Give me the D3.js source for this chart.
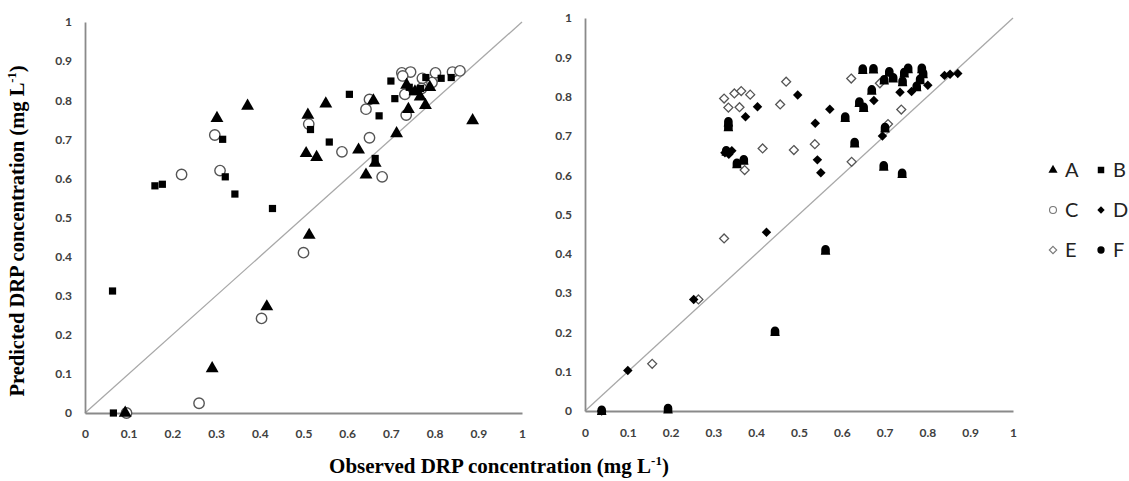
<!DOCTYPE html>
<html>
<head>
<meta charset="utf-8">
<script src="https://cdn.jsdelivr.net/npm/d3@7"></script>
<style>
  html, body { margin: 0; padding: 0; background: #fff; }
  svg { display: block; }
</style>
</head>
<body>
<svg id="chart" width="1129" height="481"></svg>
<script>
// Observed vs predicted DRP concentration (mg L-1), six model series
const ticks = [0, 0.1, 0.2, 0.3, 0.4, 0.5, 0.6, 0.7, 0.8, 0.9, 1];
const tickLabels = ["0", "0.1", "0.2", "0.3", "0.4", "0.5", "0.6", "0.7", "0.8", "0.9", "1"];
const seriesNames = ["A", "B", "C", "D", "E", "F"];

const obsA  = [0.372, 0.302, 0.510, 0.551, 0.660, 0.506, 0.530, 0.626, 0.713, 0.643, 0.664, 0.887, 0.740, 0.779, 0.736, 0.767, 0.789, 0.755, 0.513, 0.416, 0.291, 0.092];
const predA = [0.785, 0.754, 0.762, 0.791, 0.799, 0.664, 0.654, 0.673, 0.715, 0.609, 0.639, 0.748, 0.777, 0.787, 0.839, 0.809, 0.833, 0.822, 0.455, 0.272, 0.114, 0.000];

const obsB  = [0.700, 0.605, 0.709, 0.673, 0.780, 0.815, 0.838, 0.742, 0.750, 0.768, 0.516, 0.315, 0.559, 0.664, 0.321, 0.160, 0.177, 0.343, 0.429, 0.063, 0.065];
const predB = [0.849, 0.815, 0.804, 0.760, 0.858, 0.856, 0.858, 0.833, 0.822, 0.830, 0.725, 0.700, 0.693, 0.651, 0.604, 0.581, 0.585, 0.560, 0.523, 0.312, 0.000];

const obsC  = [0.725, 0.745, 0.727, 0.802, 0.841, 0.858, 0.772, 0.794, 0.770, 0.732, 0.651, 0.643, 0.735, 0.512, 0.297, 0.651, 0.588, 0.309, 0.221, 0.680, 0.500, 0.404, 0.261, 0.095];
const predC = [0.870, 0.872, 0.862, 0.870, 0.872, 0.875, 0.856, 0.845, 0.830, 0.815, 0.802, 0.777, 0.762, 0.739, 0.711, 0.704, 0.668, 0.620, 0.610, 0.604, 0.410, 0.242, 0.025, 0.000];

const obsD  = [0.497, 0.403, 0.375, 0.572, 0.538, 0.543, 0.551, 0.675, 0.736, 0.801, 0.840, 0.853, 0.871, 0.763, 0.327, 0.336, 0.343, 0.695, 0.424, 0.254, 0.100, 0.039];
const predD = [0.804, 0.774, 0.749, 0.768, 0.732, 0.639, 0.606, 0.790, 0.811, 0.829, 0.854, 0.857, 0.859, 0.813, 0.657, 0.653, 0.662, 0.700, 0.455, 0.284, 0.103, 0.000];

const obsE  = [0.325, 0.349, 0.365, 0.386, 0.335, 0.361, 0.470, 0.456, 0.415, 0.488, 0.537, 0.373, 0.622, 0.689, 0.739, 0.708, 0.623, 0.325, 0.265, 0.157];
const predE = [0.795, 0.808, 0.814, 0.805, 0.772, 0.773, 0.838, 0.780, 0.668, 0.664, 0.679, 0.613, 0.846, 0.834, 0.767, 0.730, 0.634, 0.439, 0.284, 0.120];

const obsF  = [0.649, 0.674, 0.711, 0.755, 0.787, 0.746, 0.699, 0.720, 0.742, 0.790, 0.783, 0.775, 0.670, 0.641, 0.651, 0.608, 0.335, 0.335, 0.630, 0.371, 0.355, 0.698, 0.741, 0.701, 0.562, 0.444, 0.194, 0.039, 0.330];
const predF = [0.868, 0.869, 0.861, 0.870, 0.870, 0.859, 0.841, 0.846, 0.837, 0.857, 0.842, 0.824, 0.815, 0.784, 0.771, 0.746, 0.734, 0.722, 0.681, 0.637, 0.628, 0.622, 0.603, 0.719, 0.408, 0.201, 0.004, 0.000, 0.660];

const svg = d3.select("#chart");
const zip = (xs, ys) => xs.map((x, i) => ({ x, y: ys[i] }));

// Square diamond (equal width and height); size is the bounding-square area
const squareDiamond = {
  draw(ctx, size) {
    const r = Math.sqrt(size) / 2;
    ctx.moveTo(0, -r);
    ctx.lineTo(r, 0);
    ctx.lineTo(0, r);
    ctx.lineTo(-r, 0);
    ctx.closePath();
  }
};

// Bell-shaped filled marker used for series F in the plot area
const bellSymbol = {
  draw(ctx, size) {
    const r = Math.sqrt(size / Math.PI);
    ctx.moveTo(-r, 0);
    ctx.arc(0, -r * 0.3, r, Math.PI, 0);
    ctx.lineTo(r, r * 0.55);
    ctx.lineTo(r * 1.1, r * 0.95);
    ctx.lineTo(-r * 1.1, r * 0.95);
    ctx.lineTo(-r, r * 0.55);
    ctx.closePath();
  }
};

const markerStyles = {
  A: { type: d3.symbolTriangle, size: 72, fill: "#000", stroke: "none" },
  B: { type: d3.symbolSquare, size: 52, fill: "#000", stroke: "none" },
  C: { type: d3.symbolCircle, size: 85, fill: "#fff", stroke: "#555", sw: 1.4 },
  D: { type: squareDiamond, size: 90, fill: "#000", stroke: "none" },
  E: { type: squareDiamond, size: 80, fill: "#fff", stroke: "#555", sw: 1.3 },
  F: { type: bellSymbol, size: 58, fill: "#000", stroke: "none" }
};

function panel(cfg) {
  const x = d3.scaleLinear().domain([0, 1]).range([cfg.x0, cfg.x1]);
  const y = d3.scaleLinear().domain([0, 1]).range([cfg.y0, cfg.y1]);
  const g = svg.append("g");

  // 1:1 reference line
  g.append("line")
    .attr("x1", x(0)).attr("y1", y(0)).attr("x2", x(1)).attr("y2", y(1))
    .attr("stroke", "#a8a8a8").attr("stroke-width", 1.3);

  const xAxis = d3.axisBottom(x).tickValues(ticks).tickFormat((d, i) => tickLabels[i]).tickSize(0).tickPadding(cfg.xPad);
  const yAxis = d3.axisLeft(y).tickValues(ticks).tickFormat((d, i) => tickLabels[i]).tickSize(0).tickPadding(cfg.yPad);

  const gx = g.append("g").attr("transform", `translate(0,${y(0)})`).call(xAxis);
  const gy = g.append("g").attr("transform", `translate(${x(0)},0)`).call(yAxis);
  [gx, gy].forEach(a => {
    a.select(".domain").attr("stroke", "#8a8a8a").attr("stroke-width", 1.8);
    a.selectAll(".tick text")
      .attr("font-family", "Lato, 'Open Sans', sans-serif")
      .attr("font-weight", "bold")
      .attr("font-size", 12)
      .attr("fill", "#404040");
  });

  cfg.series.forEach(([name, xs, ys]) => {
    const st = markerStyles[name];
    g.append("g").selectAll("path")
      .data(zip(xs, ys))
      .join("path")
      .attr("transform", d => `translate(${x(d.x)},${y(d.y)})`)
      .attr("d", d3.symbol().type(st.type).size(st.size))
      .attr("fill", st.fill)
      .attr("stroke", st.stroke)
      .attr("stroke-width", st.sw || 0);
  });
}

panel({
  x0: 85, x1: 522, y0: 413, y1: 22, xPad: 16, yPad: 13,
  series: [["C", obsC, predC], ["B", obsB, predB], ["A", obsA, predA]]
});

panel({
  x0: 585, x1: 1013, y0: 411, y1: 18, xPad: 17, yPad: 13,
  series: [["E", obsE, predE], ["F", obsF, predF], ["D", obsD, predD]]
});

// Axis titles
const yTitle = svg.append("text")
  .attr("transform", "translate(24,231) rotate(-90)")
  .attr("text-anchor", "middle")
  .attr("font-family", "'Liberation Serif', 'Times New Roman', serif")
  .attr("font-weight", "bold")
  .attr("font-size", 20.5)
  .attr("fill", "#000");
yTitle.append("tspan").text("Predicted DRP concentration (mg L");
yTitle.append("tspan").attr("font-size", 12.5).attr("dy", -8).text("-1");
yTitle.append("tspan").attr("dy", 8).text(")");

const xTitle = svg.append("text")
  .attr("x", 499).attr("y", 473)
  .attr("text-anchor", "middle")
  .attr("font-family", "'Liberation Serif', 'Times New Roman', serif")
  .attr("font-weight", "bold")
  .attr("font-size", 21)
  .attr("fill", "#000");
xTitle.append("tspan").text("Observed DRP concentration (mg L");
xTitle.append("tspan").attr("font-size", 13).attr("dy", -8).text("-1");
xTitle.append("tspan").attr("dy", 8).text(")");

// Legend: two columns, three rows
const legendStyles = {
  A: { type: d3.symbolTriangle, size: 36, fill: "#000", stroke: "none" },
  B: { type: d3.symbolSquare, size: 42, fill: "#000", stroke: "none" },
  C: { type: d3.symbolCircle, size: 38, fill: "#fff", stroke: "#777", sw: 1.1 },
  D: { type: squareDiamond, size: 55, fill: "#000", stroke: "none" },
  E: { type: squareDiamond, size: 55, fill: "#fff", stroke: "#777", sw: 1.1 },
  F: { type: d3.symbolCircle, size: 42, fill: "#000", stroke: "none" }
};
const legend = svg.append("g");
seriesNames.forEach((name, i) => {
  const col = i % 2, row = Math.floor(i / 2);
  const lx = 1053 + col * 48, ly = 170 + row * 40;
  const st = legendStyles[name];
  legend.append("path")
    .attr("transform", `translate(${lx},${ly})`)
    .attr("d", d3.symbol().type(st.type).size(st.size))
    .attr("fill", st.fill).attr("stroke", st.stroke).attr("stroke-width", st.sw || 0);
  legend.append("text")
    .attr("x", lx + 12).attr("y", ly + 7)
    .attr("font-family", "Lato, 'Open Sans', sans-serif")
    .attr("font-size", 20)
    .attr("fill", "#222")
    .text(name);
});
</script>
</body>
</html>
